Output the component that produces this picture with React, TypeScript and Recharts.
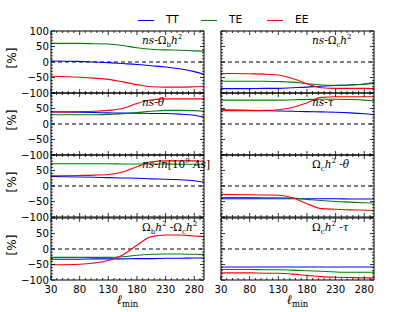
import React from 'react';
import { LineChart, Line, XAxis, YAxis, ReferenceLine } from 'recharts';

// ---------- data ----------
const ELL = [30, 80, 105, 130, 155, 180, 205, 230, 255, 280, 297];
const X_TICKS = [30, 40, 50, 60, 70, 80, 90, 100, 110, 120, 130, 140, 150, 160, 170, 180, 190, 200, 210, 220, 230, 240, 250, 260, 270, 280, 290];
const X_LABELS = [30, 80, 130, 180, 230, 280];
const Y_TICKS = [-100, -90, -80, -70, -60, -50, -40, -30, -20, -10, 0, 10, 20, 30, 40, 50, 60, 70, 80, 90, 100];
const Y_LABELS = [100, 50, 0, -50, -100];
const SERIES = ['TT', 'TE', 'EE'];

// ns - Omega_b h^2
const p1TT = [3, 2, 0, -2, -5, -8, -12, -16, -22, -31, -40];
const p1TE = [60, 60, 59, 58, 53, 46, 41, 39, 38, 36, 35];
const p1EE = [-46, -49, -52, -56, -64, -73, -80, -81, -81, -80, -79];
// ns - Omega_c h^2
const p2TT = [-86, -86, -85, -85, -83, -81, -78, -76, -74, -71, -66];
const p2TE = [-62, -62, -62, -63, -65, -70, -74, -75, -74, -72, -69];
const p2EE = [-37, -38, -39, -42, -53, -70, -83, -85, -85, -85, -86];
// ns - theta
const p3TT = [39, 38, 37, 36, 35, 35, 34, 34, 32, 28, 22];
const p3TE = [30, 30, 30, 31, 33, 37, 41, 44, 44, 43, 41];
const p3EE = [39, 40, 41, 44, 50, 66, 78, 81, 81, 81, 81];
// ns - tau
const p4TT = [46, 44, 43, 42, 41, 40, 39, 38, 36, 33, 30];
const p4TE = [77, 77, 77, 77, 78, 79, 80, 80, 79, 77, 75];
const p4EE = [43, 43, 44, 46, 53, 68, 86, 88, 88, 88, 88];
// ns - ln[10^9 As]
const p5TT = [31, 29, 28, 27, 26, 25, 23, 22, 20, 17, 12];
const p5TE = [72, 72, 72, 72, 71, 71, 71, 71, 70, 70, 70];
const p5EE = [33, 34, 35, 37, 45, 62, 78, 81, 81, 81, 80];
// Omega_c h^2 - theta
const p6TT = [-41, -41, -41, -41, -41, -41, -41, -41, -42, -42, -42];
const p6TE = [-37, -37, -38, -38, -39, -43, -47, -50, -52, -54, -55];
const p6EE = [-27, -28, -29, -30, -38, -57, -73, -75, -77, -78, -79];
// Omega_b h^2 - Omega_c h^2
const p7TT = [-33, -33, -32, -32, -32, -31, -31, -30, -30, -29, -29];
const p7TE = [-27, -27, -27, -27, -25, -20, -17, -16, -16, -17, -18];
const p7EE = [-51, -49, -45, -37, -19, 12, 40, 45, 45, 42, 40];
// Omega_c h^2 - tau
const p8TT = [-58, -58, -58, -58, -58, -58, -58, -58, -58, -58, -58];
const p8TE = [-66, -66, -67, -67, -68, -70, -72, -74, -75, -75, -75];
const p8EE = [-77, -77, -78, -78, -81, -85, -89, -91, -92, -93, -93];

// ---------- styles ----------
const COLORS: Record<string, string> = { TT: '#0000ff', TE: '#008000', EE: '#ff0000' };
const SANS = '"DejaVu Sans", sans-serif';
const SERIF = '"DejaVu Serif", serif';

const build = (tt: number[], te: number[], ee: number[]) =>
  ELL.map((l, i) => ({ l, TT: tt[i], TE: te[i], EE: ee[i] }));

const sub = (s: string) => <span style={{ fontSize: 7, position: 'relative', top: 3 }}>{s}</span>;
const sup = (s: string) => <span style={{ fontSize: 7, position: 'relative', top: -5 }}>{s}</span>;

const TITLES: React.ReactNode[] = [
  <><i>ns</i>-Ω{sub('b')}<i>h</i>{sup('2')}</>,
  <><i>ns</i>-Ω{sub('c')}<i>h</i>{sup('2')}</>,
  <><i>ns</i>-<i>θ</i></>,
  <><i>ns</i>-<i>τ</i></>,
  <><i>ns</i>-<i>ln</i>[10{sup('9')} <i>As</i>]</>,
  <>Ω{sub('c')}<i>h</i>{sup('2')} -<i>θ</i></>,
  <>Ω{sub('b')}<i>h</i>{sup('2')} -Ω{sub('c')}<i>h</i>{sup('2')}</>,
  <>Ω{sub('c')}<i>h</i>{sup('2')} -<i>τ</i></>,
];

const PANEL_DATA = [
  build(p1TT, p1TE, p1EE),
  build(p2TT, p2TE, p2EE),
  build(p3TT, p3TE, p3EE),
  build(p4TT, p4TE, p4EE),
  build(p5TT, p5TE, p5EE),
  build(p6TT, p6TE, p6EE),
  build(p7TT, p7TE, p7EE),
  build(p8TT, p8TE, p8EE),
];

const PLOT_LEFT = [51, 221];
const PLOT_TOP = [31, 93, 155, 218];
const PW = 153;
const PH = 62;
const ML = 34;
const MV = 8;

const makeXTick = (side: 'top' | 'bottom', showLabel: boolean) => (props: any) => {
  const { x, y, payload } = props;
  const v = payload.value;
  const major = X_LABELS.includes(v);
  const len = major ? 4 : 2;
  const dir = side === 'bottom' ? -1 : 1;
  return (
    <g>
      <line x1={x} x2={x} y1={y} y2={y + dir * len} stroke="#000" strokeWidth={0.8} />
      {showLabel && major && side === 'bottom' ? (
        <text x={x} y={y + 13} textAnchor="middle" fontSize={10.2} fontFamily={SANS} fill="#000">
          {v}
        </text>
      ) : null}
    </g>
  );
};

const makeYTick = (side: 'left' | 'right', showLabel: boolean, showTop: boolean) => (props: any) => {
  const { x, y, payload } = props;
  const v = payload.value;
  const major = Y_LABELS.includes(v);
  const len = major ? 4 : 2;
  const dir = side === 'left' ? 1 : -1;
  const label = showLabel && major && side === 'left' && (v !== 100 || showTop);
  return (
    <g>
      <line x1={x} x2={x + dir * len} y1={y} y2={y} stroke="#000" strokeWidth={0.8} />
      {label ? (
        <text x={x - 2} y={y + 3.5} textAnchor="end" fontSize={10.2} fontFamily={SANS} fill="#000">
          {v === 0 ? '0' : v < 0 ? '\u2212' + Math.abs(v) : String(v)}
        </text>
      ) : null}
    </g>
  );
};

const Panel = ({ idx }: { idx: number }) => {
  const row = Math.floor(idx / 2);
  const col = idx % 2;
  const bottomRow = row === 3;
  const bottomH = bottomRow ? 20 : 4;
  const left = PLOT_LEFT[col] - ML;
  const top = PLOT_TOP[row] - 4 - MV;
  const data = PANEL_DATA[idx];
  return (
    <div style={{ position: 'absolute', left, top }}>
      <LineChart
        width={ML + PW + 4}
        height={MV + 4 + PH + bottomH + MV}
        data={data}
        margin={{ top: MV, right: 0, bottom: MV, left: 0 }}
      >
        <XAxis
          xAxisId="b"
          dataKey="l"
          type="number"
          domain={[30, 297]}
          allowDataOverflow
          ticks={X_TICKS}
          interval={0}
          height={bottomH}
          tickSize={0}
          tickMargin={0}
          tickLine={false}
          axisLine={{ stroke: '#000', strokeWidth: 1 }}
          tick={makeXTick('bottom', bottomRow)}
          orientation="bottom"
        />
        <XAxis
          xAxisId="t"
          dataKey="l"
          type="number"
          domain={[30, 297]}
          allowDataOverflow
          ticks={X_TICKS}
          interval={0}
          height={4}
          tickSize={0}
          tickMargin={0}
          tickLine={false}
          axisLine={{ stroke: '#000', strokeWidth: 1 }}
          tick={makeXTick('top', false)}
          orientation="top"
        />
        <YAxis
          yAxisId="l"
          type="number"
          domain={[-100, 100]}
          allowDataOverflow
          ticks={Y_TICKS}
          interval={0}
          width={ML}
          tickSize={0}
          tickMargin={0}
          tickLine={false}
          axisLine={{ stroke: '#000', strokeWidth: 1 }}
          tick={makeYTick('left', col === 0, row === 0)}
          orientation="left"
        />
        <YAxis
          yAxisId="r"
          type="number"
          domain={[-100, 100]}
          allowDataOverflow
          ticks={Y_TICKS}
          interval={0}
          width={4}
          tickSize={0}
          tickMargin={0}
          tickLine={false}
          axisLine={{ stroke: '#000', strokeWidth: 1 }}
          tick={makeYTick('right', false, false)}
          orientation="right"
        />
        <ReferenceLine xAxisId="b" yAxisId="l" y={0} stroke="#000" strokeDasharray="4 3" strokeWidth={1} />
        {SERIES.map((s) => (
          <Line
            key={s}
            xAxisId="b"
            yAxisId="l"
            dataKey={s}
            type="monotone"
            stroke={COLORS[s]}
            strokeWidth={1.1}
            dot={false}
            isAnimationActive={false}
          />
        ))}
        <Line
          xAxisId="t"
          yAxisId="r"
          dataKey="TT"
          stroke="none"
          dot={false}
          activeDot={false}
          isAnimationActive={false}
        />
      </LineChart>
      <div
        style={{
          position: 'absolute',
          left: ML + 91,
          top: MV + 4 + 4,
          fontFamily: SERIF,
          fontSize: 10.5,
          lineHeight: '11px',
          whiteSpace: 'nowrap',
          color: '#000',
        }}
      >
        {TITLES[idx]}
      </div>
    </div>
  );
};

export default function App() {
  return (
    <div style={{ position: 'absolute', left: 0, top: 0, width: 415, height: 312, background: '#fff', overflow: 'hidden' }}>
      {/* legend */}
      {SERIES.map((s, i) => {
        const lx = [138, 201, 267][i];
        return (
          <React.Fragment key={s}>
            <div style={{ position: 'absolute', left: lx, top: 19.5, width: 16, height: 1.2, background: COLORS[s] }} />
            <div
              style={{
                position: 'absolute',
                left: lx + 28,
                top: 13,
                fontFamily: SANS,
                fontSize: 10.5,
                lineHeight: '13px',
                color: '#000',
              }}
            >
              {s}
            </div>
          </React.Fragment>
        );
      })}
      {PANEL_DATA.map((_, i) => (
        <Panel key={i} idx={i} />
      ))}
      {/* y labels */}
      {PLOT_TOP.map((t, r) => (
        <div
          key={r}
          style={{
            position: 'absolute',
            left: 12 - 20,
            top: t + PH / 2 - 4 - 7,
            width: 40,
            height: 14,
            lineHeight: '14px',
            textAlign: 'center',
            transform: 'rotate(-90deg)',
            fontFamily: SANS,
            fontSize: 12,
            color: '#000',
          }}
        >
          [%]
        </div>
      ))}
      {/* x labels */}
      {PLOT_LEFT.map((l, c) => (
        <div
          key={c}
          style={{
            position: 'absolute',
            left: l + PW / 2 - 30,
            top: 293,
            width: 60,
            textAlign: 'center',
            fontFamily: SERIF,
            fontSize: 13,
            lineHeight: '14px',
            color: '#000',
          }}
        >
          <i>ℓ</i>
          <span style={{ fontSize: 8.5, position: 'relative', top: 3 }}>min</span>
        </div>
      ))}
    </div>
  );
}
